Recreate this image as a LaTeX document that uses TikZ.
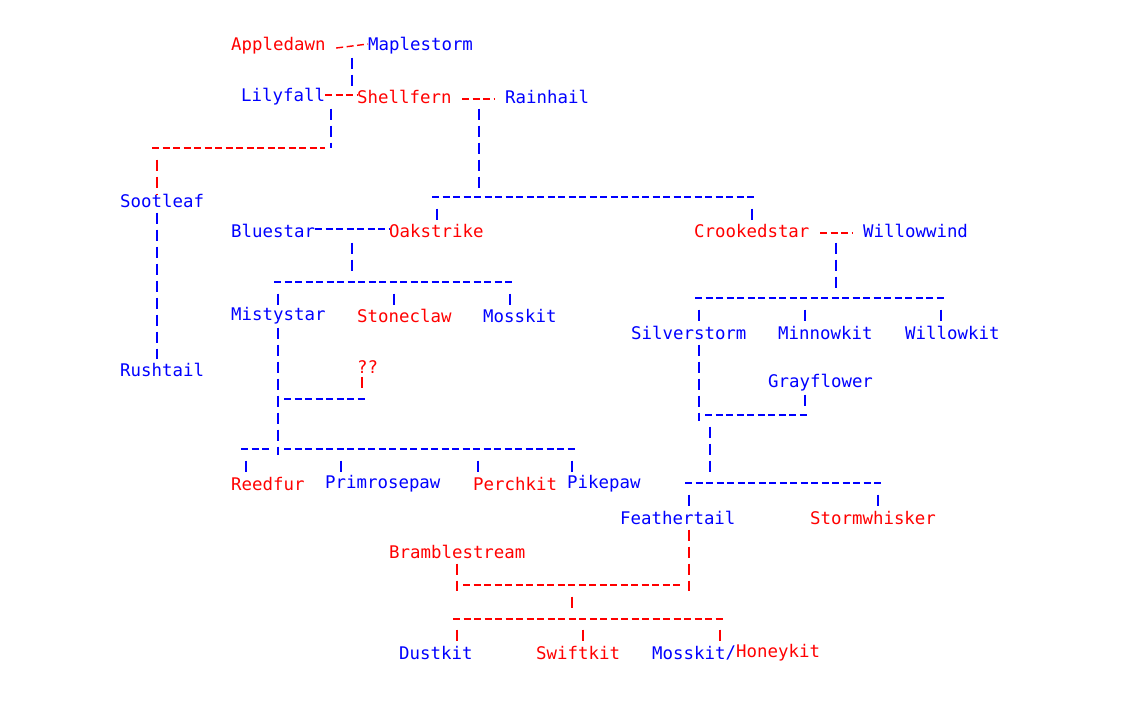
\documentclass[tikz,border=0pt]{standalone}
\usepackage{fontspec}
\setmonofont{DejaVu Sans Mono}
\definecolor{kinred}{RGB}{255,0,0}
\definecolor{kinblue}{RGB}{0,0,255}
\begin{document}
\begin{tikzpicture}[x=1pt,y=-1pt]

\tikzstyle{cat_style} = [anchor=west, inner sep=0pt, font=\ttfamily\fontsize{17.4}{20}\selectfont]
\tikzstyle{red_cat} = [cat_style, text=kinred]
\tikzstyle{blue_cat} = [cat_style, text=kinblue]
\tikzstyle{hline} = [line width=1.4pt, dash pattern=on 7pt off 3.5pt]
\tikzstyle{vline} = [line width=1.4pt, dash pattern=on 11pt off 6pt]

\useasboundingbox (0,0) rectangle (1126,710);

\node[red_cat] (apple) at (231,46) {Appledawn};
\node[blue_cat] (maple) at (368,46) {Maplestorm};
\node[blue_cat] (lily) at (241,97) {Lilyfall};
\node[red_cat] (shell) at (357,97) {Shellfern};
\node[blue_cat] (rain) at (505,97) {Rainhail};
\node[blue_cat] (soot) at (120,201) {Sootleaf};
\node[blue_cat] (rush) at (120,370) {Rushtail};
\node[blue_cat] (blue) at (231,231) {Bluestar};
\node[red_cat] (oak) at (389,231) {Oakstrike};
\node[red_cat] (crook) at (694,231) {Crookedstar};
\node[blue_cat] (willw) at (863,231) {Willowwind};
\node[blue_cat] (misty) at (231,316) {Mistystar};
\node[red_cat] (stone) at (357,316) {Stoneclaw};
\node[blue_cat] (moss) at (483,316) {Mosskit};
\node[blue_cat] (silver) at (631,333) {Silverstorm};
\node[blue_cat] (minnow) at (778,333) {Minnowkit};
\node[blue_cat] (willk) at (905,333) {Willowkit};
\node[red_cat] (unknown) at (357,367) {??};
\node[blue_cat] (gray) at (768,383) {Grayflower};
\node[red_cat] (reed) at (231,484) {Reedfur};
\node[blue_cat] (prim) at (325,484) {Primrosepaw};
\node[red_cat] (perch) at (473,484) {Perchkit};
\node[blue_cat] (pike) at (567,484) {Pikepaw};
\node[blue_cat] (feath) at (620,518) {Feathertail};
\node[red_cat] (stormw) at (810,518) {Stormwhisker};
\node[red_cat] (bramble) at (389,552) {Bramblestream};
\node[blue_cat] (dust) at (399,653) {Dustkit};
\node[red_cat] (swift) at (536,653) {Swiftkit};
\node[blue_cat] (mossk) at (652,653) {Mosskit};
\node[blue_cat] (slash) at (725.5,653) {/};
\node[red_cat] (honey) at (736,653) {Honeykit};

% mates
\draw[hline, kinred] (apple.east) ++(10.5,2) -- ([yshift=2]maple.west) ++(-10.5,0);
\draw[hline, kinred] ([yshift=2]lily.east) -- ([yshift=2]shell.west);
\draw[hline, kinred] ([shift={(10.5,2)}]shell.east) -- ([shift={(-10.5,2)}]rain.west);
\draw[hline, kinblue] ([yshift=2]blue.east) -- ([yshift=2]oak.west);
\draw[hline, kinred] ([shift={(10.5,2)}]crook.east) -- ([shift={(-10.5,2)}]willw.west);

% Appledawn and Maplestorm
\draw[vline, kinblue] (352,57.5) -- (352,86);

% Lilyfall and Shellfern
\coordinate (ls) at (331,148);
\draw[vline, kinblue] (331,108.5) -- (ls);
\draw[hline, kinred] (152,148) -- (325,148);
\draw[vline, kinred] (157,159.5) -- (soot.north -| 157,0);
\draw[vline, kinblue] (157,212.5) -- (157,358.5);

% Shellfern and Rainhail
\draw[vline, kinblue] (479,108.5) -- (479,187.5);
\draw[hline, kinblue] (432,197) -- (756,197);
\draw[vline, kinblue] (437,208.5) -- (437,220);
\draw[vline, kinblue] (752,208.5) -- (752,220);

% Bluestar and Oakstrike
\draw[vline, kinblue] (352,242.5) -- (352,271);
\draw[hline, kinblue] (274,282) -- (514,282);
\foreach \x in {278,394,510}
  \draw[vline, kinblue] (\x,293.5) -- (\x,305);

% Crookedstar and Willowwind
\draw[vline, kinblue] (836,242.5) -- (836,288);
\draw[hline, kinblue] (695,298) -- (945,298);
\foreach \x in {699,805,941}
  \draw[vline, kinblue] (\x,309.5) -- (\x,321);

% Mistystar
\draw[vline, kinblue] (278,327.5) -- (278,455);
\draw[vline, kinred] (362,376.5) -- (362,388);
\draw[hline, kinblue] (284,399) -- (366,399);
\draw[hline, kinblue] (241,449) -- (272,449);
\draw[hline, kinblue] (284,449) -- (577,449);
\foreach \x in {246,341,478,572}
  \draw[vline, kinblue] (\x,460.5) -- (\x,472);

% Silverstorm and Grayflower
\draw[vline, kinblue] (699,344.5) -- (699,421);
\draw[vline, kinblue] (805,394.5) -- (805,406);
\draw[hline, kinblue] (705,415) -- (808,415);
\draw[vline, kinblue] (710,426.5) -- (710,472);
\draw[hline, kinblue] (685,483) -- (882,483);
\foreach \x in {689,878}
  \draw[vline, kinblue] (\x,494.5) -- (\x,506);

% Feathertail and Bramblestream
\draw[vline, kinred] (689,529.5) -- (689,591);
\draw[vline, kinred] (457,563.5) -- (457,591);
\draw[hline, kinred] (463,585) -- (683,585);
\draw[vline, kinred] (572,596.5) -- (572,608);
\draw[hline, kinred] (453,619) -- (725,619);
\foreach \x in {457,583,720}
  \draw[vline, kinred] (\x,629.5) -- (\x,641);

\end{tikzpicture}
\end{document}
